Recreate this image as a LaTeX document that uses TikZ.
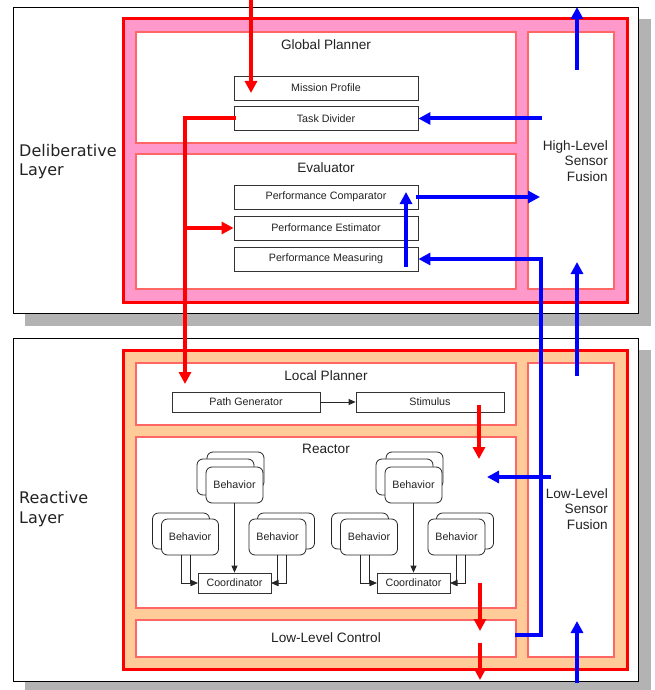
\documentclass[tikz,border=0pt]{standalone}
\usepackage{fontspec}
\setmainfont{Liberation Sans}
\newfontfamily\layerfont{DejaVu Sans}
\usetikzlibrary{arrows.meta}
\definecolor{pinkfill}{HTML}{FF99CC}
\definecolor{orangefill}{HTML}{FFCC99}
\definecolor{lightred}{HTML}{FF6666}
\definecolor{shadowgray}{HTML}{B3B3B3}
\definecolor{txt}{HTML}{222222}
\newcommand\drawbehaviors[2]{%
 \begin{scope}[xshift=#1pt]
  \node[behav] (#2tb) at (235.5,470) {};
  \node[behav] (#2tm) at (225.5,477) {};
  \node[behav] (#2tf) at (234.5,485) {Behavior};
  \node[behav] (#2lb) at (181,531) {};
  \node[behav] (#2lf) at (190,537) {Behavior};
  \node[behav] (#2rb) at (286,531) {};
  \node[behav] (#2rf) at (277.5,537) {Behavior};
  \node[smallbox, minimum width=73pt, minimum height=20pt] (#2c) at (234.5,583) {Coordinator};
  \draw[thinarrow] (#2tf.south) -- (#2c.north);
  \draw[thinarrow] ([xshift=-9pt]#2lf.south) |- (#2c.west);
  \draw[thinarrow] (#2lf.south) |- (#2c.west);
  \draw[thinarrow] ([xshift=8.5pt]#2rf.south) |- (#2c.east);
  \draw[thinarrow] (#2rf.south) |- (#2c.east);
 \end{scope}}
\begin{document}
\begin{tikzpicture}[x=1pt,y=-1pt,
  smallbox/.style={draw=black!80, line width=0.8pt, fill=white, font=\fontsize{10.7}{12}\selectfont, text=txt, inner sep=0pt, minimum height=24pt, minimum width=184pt},
  behav/.style={draw=black!85, line width=0.8pt, fill=white, rounded corners=6pt, minimum width=57pt, minimum height=36pt, font=\fontsize{10.7}{12}\selectfont, text=txt, inner sep=0pt},
  bigtext/.style={font=\fontsize{13.6}{15.7}\selectfont, text=txt, inner sep=0pt},
  layertext/.style={font=\layerfont\fontsize{16}{19.5}\selectfont, text=txt, inner sep=0pt, align=left, anchor=west},
  container/.style={draw=lightred, line width=1.2pt, fill=white},
  outerbox/.style={draw=red, line width=3pt},
  layerbox/.style={draw=black, line width=0.8pt, fill=white},
  shadowbox/.style={fill=shadowgray, draw=none},
  redarrow/.style={draw=red, line width=4pt, -{Triangle[length=12pt,width=12pt]}},
  bluearrow/.style={draw=blue, line width=4pt, line join=miter, -{Triangle[length=12pt,width=12pt]}},
  thinarrow/.style={draw=black!85, line width=0.8pt, -{Triangle[length=7pt,width=6pt]}}
]
\useasboundingbox (0,0) rectangle (655,690);
% layers
\fill[shadowbox] (25,19) rectangle (651,326);
\draw[layerbox] (13,7) rectangle (638,313);
\fill[shadowbox] (25,350) rectangle (651,690);
\draw[layerbox] (13,338) rectangle (638,681);
% deliberative
\draw[outerbox, fill=pinkfill] (123,19) rectangle (627,302);
\draw[container] (136,32) rectangle (516,143);
\draw[container] (136,154) rectangle (516,289);
\draw[container] (528,32) rectangle (614,289);
% reactive
\draw[outerbox, fill=orangefill] (123,350) rectangle (627,669);
\draw[container] (136,363) rectangle (516,425);
\draw[container] (136,437) rectangle (516,608);
\draw[container] (136,620) rectangle (516,657);
\draw[container] (528,363) rectangle (614,657);
% labels
\node[layertext] (dl) at (19,161.5) {Deliberative\\Layer};
\node[layertext] (rl) at (19,509) {Reactive\\Layer};
\node[bigtext] (gp) at (326,45) {Global Planner};
\node[bigtext] (ev) at (326,168) {Evaluator};
\node[bigtext, align=right, anchor=east] (hl) at (608,161) {High-Level\\Sensor\\Fusion};
\node[bigtext] (lp) at (326,376) {Local Planner};
\node[bigtext] (re) at (326,449) {Reactor};
\node[bigtext] (llc) at (326,638) {Low-Level Control};
\node[bigtext, align=right, anchor=east] (ll) at (608,509) {Low-Level\\Sensor\\Fusion};
% boxes
\node[smallbox] (mp) at (326,88) {Mission Profile};
\node[smallbox] (td) at (326,118.5) {Task Divider};
\node[smallbox] (pc) at (326,197) {Performance Comparator};
\node[smallbox] (pe) at (326,228) {Performance Estimator};
\node[smallbox] (pm) at (326,259) {Performance Measuring};
\node[smallbox, minimum width=148pt, minimum height=20pt] (pg) at (246,402) {Path Generator};
\node[smallbox, minimum width=148pt, minimum height=20pt] (st) at (430,402) {Stimulus};
\draw[thinarrow] (pg.east) -- (st.west);
\drawbehaviors{0}{a}
\drawbehaviors{179}{b}
% coordinates
\coordinate (r1s) at (251,0);
\coordinate (r1e) at (251,93);
\coordinate (r2a) at (236,118.5);
\coordinate (r2b) at (185,118.5);
\coordinate (r2e) at (185,384);
\coordinate (r2j) at (185,228);
\coordinate (r3s) at (479,405);
\coordinate (r3e) at (479,459);
\coordinate (r4s) at (480,583);
\coordinate (r4e) at (480,631);
\coordinate (r5s) at (480,643);
\coordinate (r5e) at (480,680);
\coordinate (b1s) at (542,118.5);
\coordinate (b2s) at (577,70);
\coordinate (b2e) at (577,7);
\coordinate (b3s) at (416,197);
\coordinate (b3e) at (540,197);
\coordinate (b4s) at (406,267);
\coordinate (b4e) at (406,192);
\coordinate (b5s) at (515,635);
\coordinate (b5a) at (541,635);
\coordinate (b5b) at (541,259);
\coordinate (b6s) at (577,376);
\coordinate (b6e) at (577,262);
\coordinate (b7s) at (551,477);
\coordinate (b7e) at (487,477);
\coordinate (b8s) at (577,683);
\coordinate (b8e) at (577,621);
% red arrows
\draw[redarrow] (r1s) -- (r1e);
\draw[redarrow] (r2a) -- (r2b) -- (r2e);
\draw[redarrow] (r2j) -- (pe.west);
\draw[redarrow] (r3s) -- (r3e);
\draw[redarrow] (r4s) -- (r4e);
\draw[redarrow] (r5s) -- (r5e);
% blue arrows
\draw[bluearrow] (b1s) -- (td.east);
\draw[bluearrow] (b2s) -- (b2e);
\draw[bluearrow] (b3s) -- (b3e);
\draw[bluearrow] (b4s) -- (b4e);
\draw[bluearrow] (b5s) -- (b5a) -- (b5b) -- (pm.east);
\draw[bluearrow] (b6s) -- (b6e);
\draw[bluearrow] (b7s) -- (b7e);
\draw[bluearrow] (b8s) -- (b8e);
\end{tikzpicture}
\end{document}
